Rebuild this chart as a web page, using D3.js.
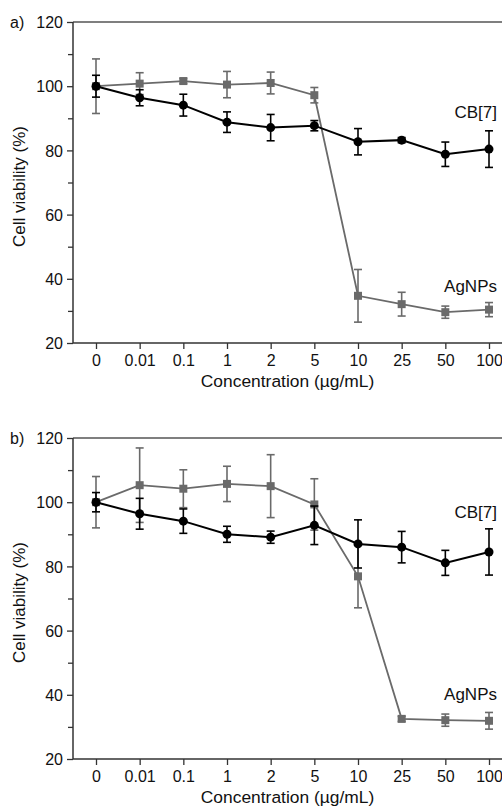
<!DOCTYPE html>
<html>
<head>
<meta charset="utf-8">
<script src="https://cdnjs.cloudflare.com/ajax/libs/d3/7.8.5/d3.min.js"></script>
<style>
  body { margin: 0; background: #fff; }
  svg text { font-family: "Liberation Sans", Arial, sans-serif; fill: #111; }
</style>
</head>
<body>
<div id="chart"></div>
<script>
// Concentration categories (µg/mL)
const concentrations = ['0', '0.01', '0.1', '1', '2', '5', '10', '25', '50', '100'];
const yTicks = [20, 40, 60, 80, 100, 120];
const yMinorTicks = [30, 50, 70, 90, 110];

// Panel a
const cbA = [100, 96.4, 94.1, 88.8, 87.1, 87.7, 82.7, 83.2, 78.8, 80.4];
const cbAErr = [3.4, 2.5, 3.4, 3.2, 4.1, 1.6, 4.1, 0.8, 3.8, 5.7];
const agA = [100, 100.8, 101.6, 100.5, 101.0, 97.2, 34.7, 32.1, 29.6, 30.4];
const agAErr = [8.5, 3.4, 0.8, 4.1, 3.4, 2.4, 8.2, 3.7, 1.9, 2.2];

// Panel b
const cbB = [100, 96.4, 94.1, 90.0, 89.1, 92.8, 87.0, 86.0, 81.1, 84.5];
const cbBErr = [3.0, 4.8, 3.8, 2.5, 1.9, 6.0, 7.5, 4.9, 3.9, 7.2];
const agB = [100, 105.3, 104.2, 105.7, 105.0, 99.3, 76.9, 32.5, 32.1, 31.9];
const agBErr = [8.0, 11.6, 5.9, 5.5, 9.8, 8.0, 9.8, 0.8, 1.9, 2.6];

const panels = [
  { label: 'a)', top: 22, cb: cbA, cbErr: cbAErr, ag: agA, agErr: agAErr, cbLabelY: 118, agLabelY: 292 },
  { label: 'b)', top: 438, cb: cbB, cbErr: cbBErr, ag: agB, agErr: agBErr, cbLabelY: 518, agLabelY: 700 }
];

const width = 502, height = 808;
const plotLeft = 73, plotRight = 502, plotH = 321;
const gray = '#6a6a6a';
const fontStack = '"Liberation Sans", Arial, sans-serif';

const svg = d3.select('#chart').append('svg')
  .attr('width', width)
  .attr('height', height);

panels.forEach(p => {
  const g = svg.append('g').attr('transform', `translate(0, ${p.top})`);

  const x = d3.scalePoint()
    .domain(concentrations)
    .range([96, 489]);
  const y = d3.scaleLinear()
    .domain([20, 120])
    .range([plotH, 0]);

  // axes
  const yAxis = g.append('g')
    .attr('transform', `translate(${plotLeft}, 0)`)
    .call(d3.axisLeft(y).tickValues(yTicks).tickSize(6).tickPadding(4));
  yAxis.select('.domain').remove();
  yAxis.selectAll('text').attr('font-size', 16).attr('dy', '0.36em').style('font-family', fontStack);

  const yMinor = g.append('g')
    .attr('transform', `translate(${plotLeft}, 0)`)
    .call(d3.axisLeft(y).tickValues(yMinorTicks).tickSize(5).tickFormat(''));
  yMinor.select('.domain').remove();

  const xAxis = g.append('g')
    .attr('transform', `translate(0, ${plotH})`)
    .call(d3.axisBottom(x).tickSize(6).tickPadding(6));
  xAxis.select('.domain').remove();
  xAxis.selectAll('text').attr('font-size', 16).style('font-family', fontStack);

  g.selectAll('.tick line').attr('stroke', '#333').attr('stroke-width', 1.3);

  // frame lines
  g.append('line').attr('x1', plotLeft).attr('x2', plotRight).attr('y1', 0).attr('y2', 0)
    .attr('stroke', '#555').attr('stroke-width', 1.5);
  g.append('line').attr('x1', plotLeft).attr('x2', plotRight).attr('y1', plotH).attr('y2', plotH)
    .attr('stroke', '#333').attr('stroke-width', 1.5);
  g.append('line').attr('x1', plotLeft).attr('x2', plotLeft).attr('y1', 0).attr('y2', plotH)
    .attr('stroke', '#333').attr('stroke-width', 1.5);

  // axis titles
  g.append('text')
    .attr('transform', `translate(25, ${plotH / 2 + 4}) rotate(-90)`)
    .attr('text-anchor', 'middle')
    .attr('font-size', 17)
    .text('Cell viability (%)');
  g.append('text')
    .attr('x', (plotLeft + plotRight) / 2)
    .attr('y', plotH + 44)
    .attr('text-anchor', 'middle')
    .attr('font-size', 17.4)
    .text('Concentration (µg/mL)');

  g.append('text')
    .attr('x', 10)
    .attr('y', 6)
    .attr('font-size', 16)
    .text(p.label);

  const series = [
    { values: p.ag, errs: p.agErr, color: gray, shape: 'square', lw: 1.8 },
    { values: p.cb, errs: p.cbErr, color: '#000', shape: 'circle', lw: 2 }
  ];

  series.forEach(s => {
    const pts = concentrations.map((c, i) => ({ c, v: s.values[i], e: s.errs[i] }));
    const sg = g.append('g');

    // error bars
    const eb = sg.selectAll('.err').data(pts).enter().append('g');
    eb.append('line')
      .attr('x1', d => x(d.c)).attr('x2', d => x(d.c))
      .attr('y1', d => y(d.v + d.e)).attr('y2', d => y(d.v - d.e))
      .attr('stroke', s.color).attr('stroke-width', 1.6);
    [1, -1].forEach(sign => {
      eb.append('line')
        .attr('x1', d => x(d.c) - 4).attr('x2', d => x(d.c) + 4)
        .attr('y1', d => y(d.v + sign * d.e)).attr('y2', d => y(d.v + sign * d.e))
        .attr('stroke', s.color).attr('stroke-width', 1.6);
    });

    // line
    const line = d3.line().x(d => x(d.c)).y(d => y(d.v));
    sg.append('path').datum(pts)
      .attr('d', line)
      .attr('fill', 'none')
      .attr('stroke', s.color)
      .attr('stroke-width', s.lw);

    // markers
    if (s.shape === 'circle') {
      sg.selectAll('.pt').data(pts).enter().append('circle')
        .attr('cx', d => x(d.c)).attr('cy', d => y(d.v)).attr('r', 4.5)
        .attr('fill', s.color);
    } else {
      sg.selectAll('.pt').data(pts).enter().append('rect')
        .attr('x', d => x(d.c) - 4).attr('y', d => y(d.v) - 4)
        .attr('width', 8).attr('height', 8)
        .attr('fill', s.color);
    }
  });

  // series labels
  svg.append('text').attr('x', 497).attr('y', p.cbLabelY)
    .attr('text-anchor', 'end').attr('font-size', 17).text('CB[7]');
  svg.append('text').attr('x', 497).attr('y', p.agLabelY)
    .attr('text-anchor', 'end').attr('font-size', 17).text('AgNPs');
});
</script>
</body>
</html>
